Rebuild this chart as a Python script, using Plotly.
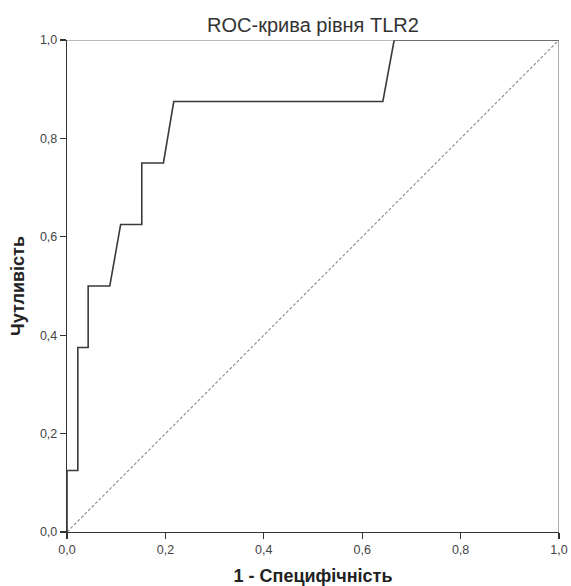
import plotly.graph_objects as go

fpr = [0, 0, 0.022, 0.022, 0.043, 0.043, 0.087, 0.109, 0.152, 0.152, 0.196, 0.217, 0.642, 0.665, 1.0]
tpr = [0, 0.125, 0.125, 0.375, 0.375, 0.5, 0.5, 0.625, 0.625, 0.75, 0.75, 0.875, 0.875, 1.0, 1.0]
ref_x = [0, 1]
ref_y = [0, 1]
ticks = [0, 0.2, 0.4, 0.6, 0.8, 1.0]
tick_text = ["0,0", "0,2", "0,4", "0,6", "0,8", "1,0"]

FONT = "Liberation Sans, Arial, sans-serif"
W, H = 571, 586

fig = go.Figure()
fig.add_trace(go.Scatter(x=ref_x, y=ref_y, mode="lines",
                         line=dict(color="#8a8a8a", width=1.1, dash="3px,2px"),
                         showlegend=False, hoverinfo="skip"))
fig.add_trace(go.Scatter(x=fpr, y=tpr, mode="lines",
                         line=dict(color="#3a3a3a", width=1.6),
                         showlegend=False))

axis_common = dict(range=[0, 1], tickvals=ticks, ticktext=tick_text,
                   showgrid=False, zeroline=False, showline=True,
                   linecolor="#333333", linewidth=1.2, ticks="outside",
                   ticklen=6, tickcolor="#333333", tickwidth=1.2,
                   tickfont=dict(family=FONT, size=12.5, color="#444444"),
                   mirror=False, fixedrange=True, automargin=False)

fig.update_layout(
    width=W, height=H,
    margin=dict(l=67, r=12, t=40, b=54),
    paper_bgcolor="white", plot_bgcolor="white",
    title=dict(text="ROC-крива рівня TLR2", x=0.5, xanchor="center",
               xref="paper",
               y=1 - 25 / H, yanchor="middle",
               font=dict(family=FONT, size=20, color="#333333")),
    xaxis=dict(**axis_common,
               title=dict(text="<b>1 - Специфічність</b>", standoff=14,
                          font=dict(family=FONT, size=18, color="#222222"))),
    yaxis=dict(**axis_common,
               title=dict(text="<b>Чутливість</b>", standoff=10,
                          font=dict(family=FONT, size=18, color="#222222"))),
    shapes=[
        dict(type="line", xref="x", yref="y", x0=0, y0=1, x1=1, y1=1,
             line=dict(color="#777777", width=1.2)),
        dict(type="line", xref="x", yref="y", x0=1, y0=0, x1=1, y1=1,
             line=dict(color="#777777", width=1.2)),
    ],
)

fig.write_html("out.html",
               config={"displayModeBar": False, "staticPlot": True},
               post_script="document.body.style.margin='0';document.body.style.overflow='hidden';")
